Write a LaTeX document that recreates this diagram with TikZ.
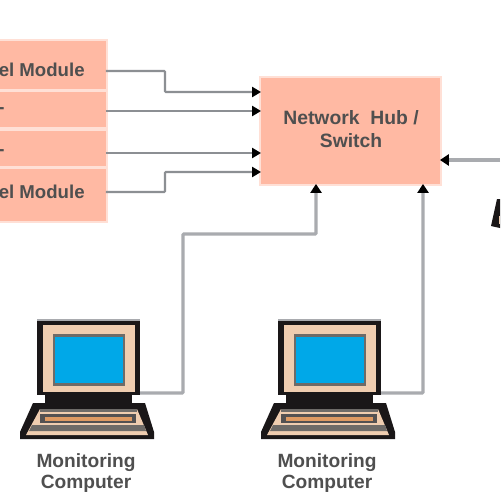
\documentclass[tikz,border=0pt]{standalone}
\usepackage{fontspec}
\setmainfont{Liberation Sans}
\usetikzlibrary{arrows.meta}
\definecolor{salmon}{HTML}{FFB9A3}
\definecolor{halo}{HTML}{FFE0D6}
\definecolor{wire}{HTML}{8C8F93}
\definecolor{wireb}{HTML}{A9ABAF}
\definecolor{tan}{HTML}{EFCDB0}
\definecolor{scr}{HTML}{00A8E8}
\definecolor{blk}{HTML}{1A1718}
\definecolor{grayb}{HTML}{6E6B68}
\definecolor{ora}{HTML}{DE9A63}
\definecolor{txt}{HTML}{4F4F4F}
\tikzset{
 x=0.02cm,y=-0.02cm,
 panel/.style={fill=salmon,draw=none,inner sep=0pt,outer sep=0pt},
 lab/.style={font=\bfseries\fontsize{10.6pt}{13pt}\selectfont,text=txt,inner sep=0pt,align=center},
 labh/.style={lab,font=\bfseries\fontsize{11pt}{13pt}\selectfont},
 labm/.style={lab,font=\bfseries\fontsize{10.9pt}{12pt}\selectfont},
 wirea/.style={draw=wire,line width=1.3pt,-{Triangle[length=5pt,width=5.6pt,color=black]},rounded corners=0.5pt},
 wirec/.style={draw=wireb,line width=1.8pt,-{Triangle[length=5pt,width=6.2pt,color=black]},rounded corners=0.5pt},
 pics/laptop/.style={code={
  \fill[blk] (37,320) rectangle (140,395);
  \fill[wireb] (37,319) rectangle (140,321);
  \fill[tan] (43,325) rectangle (135,392);
  \fill[grayb] (53,334) rectangle (125,386);
  \fill[scr] (55,337) rectangle (123,383);
  \fill[blk] (45,392) rectangle (132,407);
  \fill[blk] (33,403) -- (145,403) -- (154,432) -- (154,439) -- (20,439) -- (20,432) -- cycle;
  \fill[tan] (40,409) -- (137,409) -- (148,435) -- (26,435) -- cycle;
  \fill[grayb] (40,409) rectangle (137,412);
  \fill[grayb] (32,425) -- (144,425) -- (146,431) -- (29,431) -- cycle;
  \fill[blk!75!white] (40,414) rectangle (136,423);
  \fill[ora] (45,417) rectangle (132,421);
 }}
}
\begin{document}
\begin{tikzpicture}
\useasboundingbox (0,0) rectangle (500,500);
\clip (0,0) rectangle (500,500);
\fill[white] (0,0) rectangle (500,500);
\fill[halo] (0,39) rectangle (108,223);
\node[panel,minimum width=2.32cm,minimum height=0.96cm] (b1) at (48,65) {};
\node[panel,minimum width=2.32cm,minimum height=0.70cm] (b2) at (48,109.5) {};
\node[panel,minimum width=2.32cm,minimum height=0.70cm] (b3) at (48,148.5) {};
\node[panel,minimum width=2.32cm,minimum height=1.04cm] (b4) at (48,195) {};
\node[lab,anchor=east] (t1) at (85,70) {el Module};
\node[lab,anchor=east] (t2) at (5,111) {-};
\node[lab,anchor=east] (t3) at (5,153) {-};
\node[lab,anchor=east] (t4) at (85,192) {el Module};
\fill[halo] (259,76) rectangle (442,186);
\node[panel,minimum width=3.58cm,minimum height=2.12cm] (hub) at (350.5,131) {};
\node[labh] (hubt) at (351,129) {Network\ \ Hub /\\Switch};
\pic (lap1) at (0,0) {laptop};
\pic (lap2) at (241,0) {laptop};
\node[labm] (m1) at (86,473.5) {Monitoring\\Computer};
\node[labm] (m2) at (327,473.5) {Monitoring\\Computer};
\coordinate (l1) at (140,393);
\coordinate (l2) at (381,393);
\coordinate (r) at (500,160);
\draw[wirea] (b1.east |- 0,71) -- (165,71) -- (165,92) -- (hub.west |- 0,92);
\draw[wirea] (b2.east |- 0,111) -- (hub.west |- 0,111);
\draw[wirea] (b3.east |- 0,153) -- (hub.west |- 0,153);
\draw[wirea] (b4.east |- 0,192) -- (165,192) -- (165,172) -- (hub.west |- 0,172);
\draw[wirec] (l1) -- (183,393) -- (183,234) -- (316,234) -- (316,184);
\draw[wirec] (l2) -- (423,393) -- (423,184);
\draw[wirec] (r) -- (hub.east |- r);
\fill[blk] (497,199) -- (500,199) -- (500,228) -- (491,226) -- cycle;
\fill[tan] (499,216) rectangle (500,224);
\end{tikzpicture}
\end{document}
